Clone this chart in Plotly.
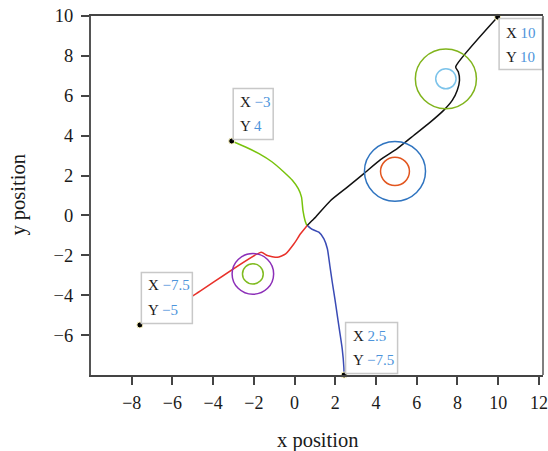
import plotly.graph_objects as go

# trajectories
green_x = [-3.09, -2.41, -1.75, -1.10, -0.53, -0.11, 0.18, 0.34, 0.41, 0.51, 0.60]
green_y = [3.73, 3.43, 3.10, 2.68, 2.18, 1.76, 1.34, 0.92, 0.25, -0.25, -0.50]

red_x = [-7.60, -4.98, -1.64, -1.34, -0.85, -0.44, -0.03, 0.29, 0.62]
red_y = [-5.49, -4.02, -1.84, -2.01, -2.10, -1.93, -1.42, -0.92, -0.50]

blue_x = [0.64, 0.87, 1.19, 1.44, 1.61, 1.73, 1.85, 1.98, 2.10, 2.22, 2.34, 2.42, 2.43]
blue_y = [-0.52, -0.70, -0.84, -1.17, -1.67, -2.51, -3.35, -4.19, -5.03, -5.86, -6.70, -7.62, -8.0]

black_x = [0.62, 0.95, 1.77, 2.59, 3.40, 4.22, 5.04, 5.86, 6.68, 7.33, 7.75, 7.99, 8.10, 8.04, 7.91, 9.97]
black_y = [-0.50, -0.17, 0.75, 1.42, 2.10, 2.80, 3.35, 4.02, 4.69, 5.28, 5.78, 6.28, 6.78, 7.20, 7.45, 9.95]

# circles: centre and radius
circle_cx = [7.43, 7.43, 4.93, 4.93, -2.05, -2.05]
circle_cy = [6.85, 6.85, 2.21, 2.21, -2.93, -2.93]
circle_r = [1.5, 0.5, 1.5, 0.71, 1.02, 0.51]
circle_colors = ['#80b41c', '#7cc3ea', '#2f74c0', '#e2561f', '#8c2fb8', '#7fbb20']

# end point labels
label_xtext = ['\u22123', '10', '\u22127.5', '2.5']
label_ytext = ['4', '10', '\u22125', '\u22127.5']

FONT = 'Liberation Serif'
VALUE_COLOR = '#4d94db'

fig = go.Figure()

curves = [
    (green_x, green_y, '#78c30c'),
    (red_x, red_y, '#e8312a'),
    (blue_x, blue_y, '#3a4bb5'),
    (black_x, black_y, '#111111'),
]
for xs, ys, col in curves:
    fig.add_trace(go.Scatter(x=xs, y=ys, mode='lines',
                             line=dict(color=col, width=1.5, shape='spline', smoothing=0.5),
                             showlegend=False, hoverinfo='skip'))

shapes = []
for cx, cy, r, col in zip(circle_cx, circle_cy, circle_r, circle_colors):
    shapes.append(dict(type='circle', xref='x', yref='y',
                       x0=cx - r, x1=cx + r, y0=cy - r, y1=cy + r,
                       line=dict(color=col, width=1.5)))

# end points: first of green and red, last of black and blue
end_x = [green_x[0], black_x[-1], red_x[0], blue_x[-1]]
end_y = [green_y[0], black_y[-1], red_y[0], blue_y[-1]]
box_w = [40, 43, 51, 52]
box_dir = [1, -1, 1, 1]  # box above (1) or below (-1) the point

annotations = []
for mx, my, tx, ty, w, d in zip(end_x, end_y, label_xtext, label_ytext, box_w, box_dir):
    shapes.append(dict(type='rect', xref='x', yref='y',
                       xsizemode='pixel', ysizemode='pixel',
                       xanchor=mx, yanchor=my,
                       x0=1.5, x1=1.5 + w, y0=d * 1.5, y1=d * 52.5,
                       line=dict(color='#c8c8c8', width=1.5),
                       fillcolor='white', layer='above'))
    for txt, shift in [('X <span style="color:%s">%s</span>' % (VALUE_COLOR, tx), 39.5),
                       ('Y <span style="color:%s">%s</span>' % (VALUE_COLOR, ty), 15)]:
        if d < 0:
            shift = -(55 - shift)
        annotations.append(dict(x=mx, y=my, xref='x', yref='y',
                                xanchor='left', yanchor='middle',
                                xshift=6.5, yshift=shift, showarrow=False,
                                text=txt, font=dict(family=FONT, size=15, color='#1a1a1a')))

# axis titles
annotations.append(dict(text='x position', xref='paper', yref='paper', x=0.5, y=0,
                        xanchor='center', yanchor='middle', yshift=-65, showarrow=False,
                        font=dict(family=FONT, size=20.5, color='#1a1a1a')))
annotations.append(dict(text='y position', xref='paper', yref='paper', x=0, y=0.5,
                        xanchor='center', yanchor='middle', xshift=-73, showarrow=False,
                        textangle=-90, font=dict(family=FONT, size=20.5, color='#1a1a1a')))

fig.add_trace(go.Scatter(x=end_x, y=end_y, mode='markers',
                         marker=dict(color='black', size=6,
                                     line=dict(color='#fff8c0', width=1)),
                         cliponaxis=False, showlegend=False, hoverinfo='skip'))

# thin right edge of the frame
shapes.append(dict(type='line', xref='paper', yref='paper', x0=1, x1=1, y0=0, y1=1,
                   line=dict(color='black', width=1)))

fig.update_layout(
    width=548, height=451,
    margin=dict(l=91, r=5, t=16, b=76, autoexpand=False),
    plot_bgcolor='white', paper_bgcolor='white',
    font=dict(family=FONT, size=18, color='#1a1a1a'),
    shapes=shapes, annotations=annotations,
    xaxis=dict(range=[-10, 12.2], tickvals=[-8, -6, -4, -2, 0, 2, 4, 6, 8, 10, 12],
               showgrid=False, zeroline=False, showline=True, mirror=True,
               linecolor='#444', linewidth=2, ticks='outside', ticklen=8,
               tickcolor='#444', tickwidth=1.5, automargin=False,
               ticklabelstandoff=2, tickfont=dict(size=18)),
    yaxis=dict(range=[-8, 10], tickvals=[-6, -4, -2, 0, 2, 4, 6, 8, 10],
               showgrid=False, zeroline=False, showline=True,
               linecolor='#555', linewidth=2, ticks='outside', ticklen=8,
               tickcolor='#444', tickwidth=1.5, automargin=False,
               ticklabelstandoff=4, tickfont=dict(size=18.5)),
)

fig.write_html('out.html', config={'displayModeBar': False},
               post_script="document.body.style.margin='0';")
